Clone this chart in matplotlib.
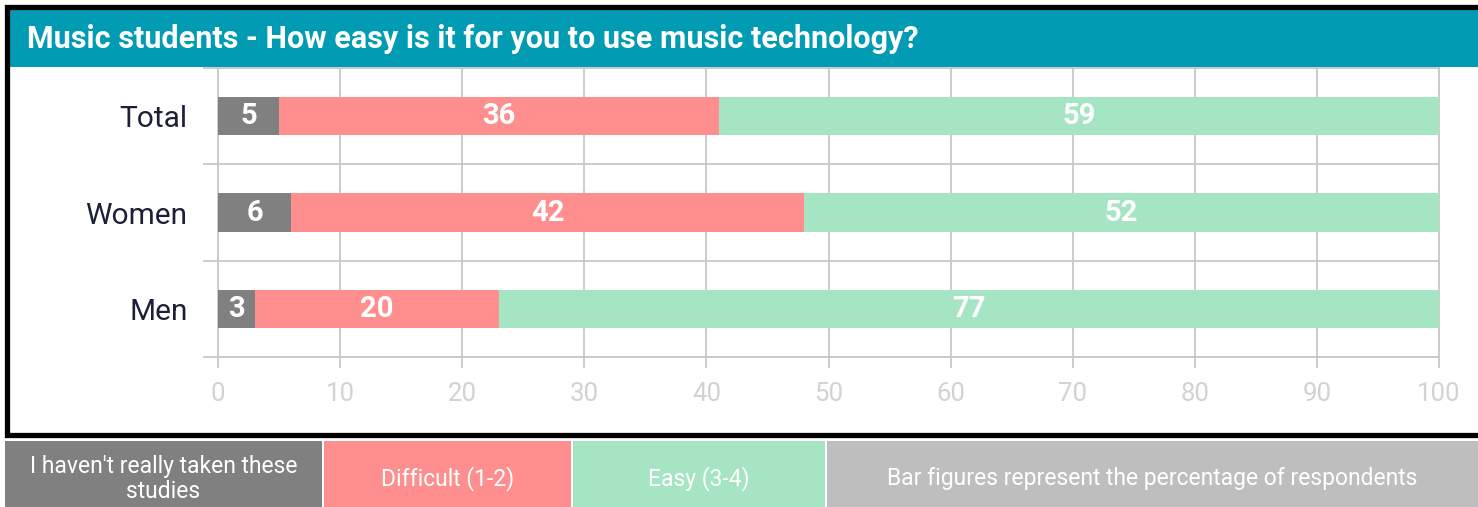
import matplotlib
matplotlib.use('Agg')
import matplotlib.pyplot as plt
from matplotlib.patches import Rectangle
from matplotlib.lines import Line2D
import numpy as np

plt.rcParams['font.family'] = ['Roboto', 'DejaVu Sans']

groups = ['Men', 'Women', 'Total']
not_taken = [3, 6, 5]
difficult = [20, 42, 36]
easy = [77, 52, 59]

series = [
    ("I haven't really taken these\nstudies", not_taken, '#808080'),
    ('Difficult (1-2)', difficult, '#FF8F8F'),
    ('Easy (3-4)', easy, '#A6E5C3'),
]
note = 'Bar figures represent the percentage of respondents'
title = 'Music students - How easy is it for you to use music technology?'

W, H = 1478, 507
fig = plt.figure(figsize=(W / 100, H / 100), dpi=100)


def fx(px):
    return px / W


def fy(py):
    return 1 - py / H


# outer black frame (open on the right) and title banner
fig.lines.append(Line2D([fx(1478), fx(7), fx(7), fx(1478)],
                        [fy(7), fy(7), fy(435), fy(435)],
                        transform=fig.transFigure, color='black', lw=3.8,
                        solid_joinstyle='miter'))
fig.patches.append(Rectangle((fx(10), fy(67)), fx(1478) - fx(10), fy(10) - fy(67),
                             transform=fig.transFigure, fc='#019BB4', ec='none'))
fig.text(fx(27), fy(39), title, color='white', fontsize=22, fontweight='bold',
         va='center', ha='left')

ax = fig.add_axes([fx(218), fy(357), fx(1439) - fx(218), fy(68) - fy(357)])
y = np.arange(len(groups))
left = np.zeros(len(groups))
for name, vals, col in series:
    vals = np.array(vals)
    ax.barh(y, vals, left=left, height=0.4, color=col, zorder=3)
    for yi, l, v in zip(y, left, vals):
        ax.text(l + v / 2, yi, str(v), ha='center', va='center', color='white',
                fontsize=21, fontweight='bold', zorder=4)
    left += vals

ax.set_xlim(0, 100)
ax.set_ylim(-0.5, 2.5)
ax.set_xticks(np.arange(0, 101, 10))
ax.set_yticks(y)
ax.set_yticklabels(groups, fontsize=21.5, color='#1B2036')
ax.set_yticks(np.arange(-0.5, 2.6, 1), minor=True)
ax.tick_params(axis='y', which='major', length=0, pad=22)
ax.tick_params(axis='y', which='minor', length=11, color='#C8C8C8', width=1.3)
ax.tick_params(axis='x', length=8, color='#C8C8C8', width=1.3, labelsize=18.5,
               labelcolor='#D2D2D2', pad=10)
ax.grid(axis='x', which='major', color='#C8C8C8', lw=1.3, zorder=0)
ax.grid(axis='y', which='minor', color='#C8C8C8', lw=1.3, zorder=0)
for s in ax.spines.values():
    s.set_color('#C8C8C8')
    s.set_linewidth(1.3)

# legend strip along the bottom
boxes = [(5, 322), (324, 571), (573, 825), (827, 1478)]
labels = [s[0] for s in series] + [note]
colors = [s[2] for s in series] + ['#BEBEBE']
for (x0, x1), lab, col in zip(boxes, labels, colors):
    fig.patches.append(Rectangle((fx(x0), 0), fx(x1) - fx(x0), fy(441),
                                 transform=fig.transFigure, fc=col, ec='none'))
    fig.text(fx((x0 + x1) / 2), fy(479), lab, color='white', fontsize=16.5,
             ha='center', va='center', linespacing=1.15)

fig.savefig('out.png', dpi=100, facecolor='white')
